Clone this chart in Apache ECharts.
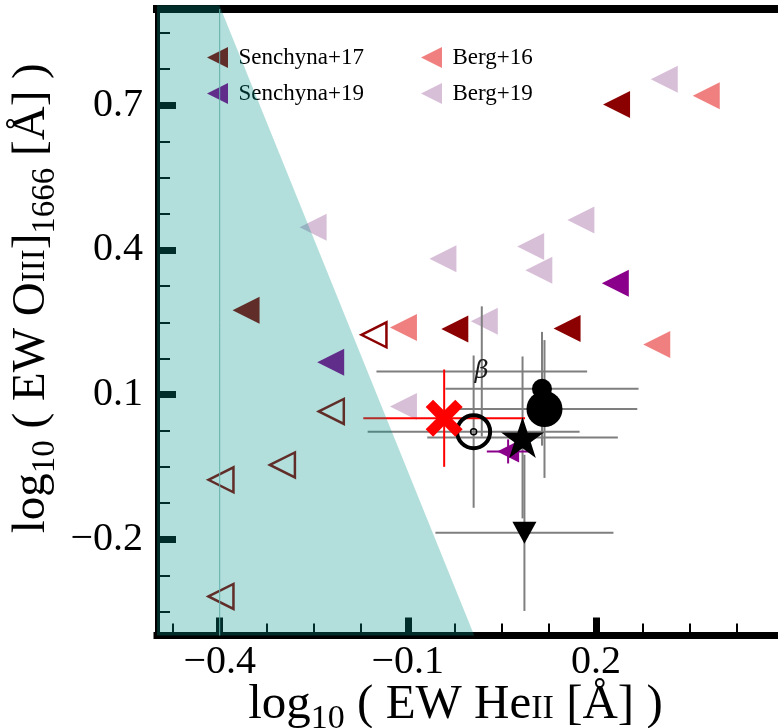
<!DOCTYPE html>
<html>
<head>
<meta charset="utf-8">
<script src="https://cdn.jsdelivr.net/npm/echarts@6/dist/echarts.min.js"></script>
<style>
  html, body { margin: 0; padding: 0; background: #fff; }
  #chart { width: 778px; height: 728px; }
</style>
</head>
<body>
<div id="chart"></div>
<script>
// log10 EW(HeII) against log10 EW(OIII]1666) for the comparison samples

// comparison samples: [log EW HeII, log EW OIII]]
const senchyna17 = [[-0.358, 0.275], [-0.025, 0.236], [0.154, 0.237], [0.233, 0.702]];
const senchyna17Limits = [[-0.154, 0.224], [-0.222, 0.065], [-0.300, -0.046], [-0.398, -0.077], [-0.398, -0.319]];
const senchyna19 = [[-0.223, 0.167], [0.231, 0.331]];
const berg16 = [[-0.107, 0.239], [0.297, 0.204], [0.376, 0.720]];
const berg19 = [[-0.251, 0.447], [0.176, 0.462], [-0.044, 0.382], [0.096, 0.407], [0.109, 0.358],
                [0.022, 0.252], [-0.107, 0.075], [0.309, 0.754]];

// individual sources: [x, y, xerr, yerr]
const crossSource = [[-0.042, 0.051, 0.129, 0.101]];
const sunSource = [[0.005, 0.023, 0.169, 0.158]];
const betaSource = [[0.018, 0.148, 0.168, 0.135]];
const bigDotSource = [[0.118, 0.070, 0.148, 0.143]];
const smallDotSource = [[0.114, 0.112, 0.154, 0.118]];
const starSource = [[0.083, 0.011, 0.152, 0.168]];
const downSource = [[0.086, -0.187, 0.142, 0.162]];
const purpleSource = [[0.060, -0.018, 0.034, 0.025]];

// shaded region and its reference line
const shadedRegion = [[-0.5, 0.908], [-0.4005, 0.908], [0.006, -0.4], [-0.5, -0.4]];
const refLineX = -0.4;

// axis ticks
const xMajorTicks = [-0.4, -0.1, 0.2];
const xMinorTicks = [-0.475, -0.325, -0.25, -0.175, -0.025, 0.05, 0.125, 0.275, 0.35, 0.425];
const yMajorTicks = [-0.2, 0.1, 0.4, 0.7];
const yMinorTicks = [-0.35, -0.275, -0.125, -0.05, 0.025, 0.175, 0.25, 0.325, 0.475, 0.55, 0.625, 0.775, 0.85];

const SERIF = 'Liberation Serif';
const TRI_LEFT = 'path://M0,5L10,0L10,10Z';
const TRI_DOWN = 'path://M0,0L10,0L5,10Z';
const CROSS_X = 'path://M2,0L5,3L8,0L10,2L7,5L10,8L8,10L5,7L2,10L0,8L3,5L0,2Z';
const STAR = 'path://M0,-100L22.45,-30.9L95.1,-30.9L36.33,11.8L58.78,80.9L0,38.2L-58.78,80.9L-36.33,11.8L-95.1,-30.9L-22.45,-30.9Z';

const fmt = v => (v < 0 ? '\u2212' : '') + Math.abs(v).toFixed(1);

// rich styles for axis titles: main text, subscript and small capitals
// (all tokens centred in the line; top padding lowers small caps onto the
// baseline and drops the subscript below it)
function titleRich(size) {
  const small = Math.round(size * 0.7);
  const base = size / 2 + 0.305 * size;
  const scPad = 2 * (base - size / 2 - 0.305 * small);
  const subPad = 2 * (base + 10 - size / 2 - 0.305 * small);
  return {
    m:  { fontFamily: SERIF, fontSize: size, lineHeight: size, color: '#000' },
    s:  { fontFamily: SERIF, fontSize: small, lineHeight: 10, color: '#000', padding: [subPad, 0, 0, 0] },
    sc: { fontFamily: SERIF, fontSize: small, lineHeight: 10, color: '#000', padding: [scPad, 0, 0, 0] }
  };
}

function errorBars(data, color, width, z) {
  return {
    type: 'custom', z: z, silent: true, data: data,
    encode: { x: 0, y: 1 },
    renderItem: function (params, api) {
      const x = api.value(0), y = api.value(1), ex = api.value(2), ey = api.value(3);
      const l = api.coord([x - ex, y]), r = api.coord([x + ex, y]);
      const t = api.coord([x, y + ey]), b = api.coord([x, y - ey]);
      return {
        type: 'group',
        children: [
          { type: 'line', shape: { x1: l[0], y1: l[1], x2: r[0], y2: r[1] }, style: { stroke: color, lineWidth: width } },
          { type: 'line', shape: { x1: t[0], y1: t[1], x2: b[0], y2: b[1] }, style: { stroke: color, lineWidth: width } }
        ]
      };
    }
  };
}

function marker(data, symbol, size, style, z) {
  return {
    type: 'scatter', z: z, data: data, symbol: symbol, symbolSize: size,
    itemStyle: Object.assign({ opacity: 1 }, style),
    emphasis: { disabled: true }
  };
}

function triangles(name, data, color) {
  const s = marker(data, TRI_LEFT, 27, { color: color }, 2);
  s.name = name;
  return s;
}

const chart = echarts.init(document.getElementById('chart'), null, { renderer: 'canvas' });

const legendText = { fontFamily: SERIF, fontSize: 23, color: '#000', padding: [0, 0, 0, 5] };

chart.setOption({
  animation: false,
  backgroundColor: '#fff',
  grid: { left: 157, top: 9, width: 627, height: 626.5, containLabel: false, outerBoundsMode: 'none' },
  legend: [
    {
      left: 207, top: 46, orient: 'vertical', padding: 0, itemGap: 13,
      itemWidth: 22, itemHeight: 21, selectedMode: false, z: 4,
      data: [{ name: 'Senchyna+17', icon: TRI_LEFT }, { name: 'Senchyna+19', icon: TRI_LEFT }],
      textStyle: legendText
    },
    {
      left: 421, top: 46, orient: 'vertical', padding: 0, itemGap: 13,
      itemWidth: 22, itemHeight: 21, selectedMode: false, z: 4,
      data: [{ name: 'Berg+16', icon: TRI_LEFT }, { name: 'Berg+19', icon: TRI_LEFT }],
      textStyle: legendText
    }
  ],
  xAxis: [
    {
      type: 'value', position: 'bottom', min: -0.5, max: 0.5,
      axisLine: { show: true, onZero: false, lineStyle: { color: '#000', width: 7, cap: 'square' } },
      axisTick: { show: true, inside: true, length: 18, customValues: xMajorTicks,
                  lineStyle: { color: '#000', width: 7 } },
      axisLabel: { show: true, margin: 7, customValues: xMajorTicks, formatter: fmt,
                   fontFamily: SERIF, fontSize: 40, color: '#000' },
      splitLine: { show: false },
      name: '{m|log}{s|10}{m| ( EW He}{sc|II}{m| [Å] )}',
      nameLocation: 'middle', nameGap: 45, nameMoveOverlap: false,
      nameTextStyle: { rich: titleRich(49), padding: [0, 30, 0, 0] }
    },
    {
      type: 'value', position: 'bottom', min: -0.5, max: 0.5,
      axisLine: { show: false, onZero: false },
      axisTick: { show: true, inside: true, length: 12, customValues: xMinorTicks,
                  lineStyle: { color: '#000', width: 2 } },
      axisLabel: { show: false },
      splitLine: { show: false }
    },
    {
      type: 'value', position: 'top', min: -0.5, max: 0.5,
      axisLine: { show: true, onZero: false, lineStyle: { color: '#000', width: 8, cap: 'square' } },
      axisTick: { show: false }, axisLabel: { show: false }, splitLine: { show: false }
    }
  ],
  yAxis: [
    {
      type: 'value', position: 'left', min: -0.4, max: 0.9,
      axisLine: { show: true, onZero: false, lineStyle: { color: '#000', width: 5, cap: 'square' } },
      axisTick: { show: true, inside: true, length: 19, customValues: yMajorTicks,
                  lineStyle: { color: '#000', width: 7 } },
      axisLabel: { show: true, margin: 14, customValues: yMajorTicks, formatter: fmt,
                   fontFamily: SERIF, fontSize: 40, color: '#000' },
      splitLine: { show: false },
      name: '{m|log}{s|10}{m| ( EW O}{sc|III}{m|]}{s|1666}{m| [Å] )}',
      nameLocation: 'middle', nameGap: 102, nameRotate: 90, nameMoveOverlap: false,
      nameTextStyle: { rich: titleRich(47), padding: [0, 0, 0, 48] }
    },
    {
      type: 'value', position: 'left', min: -0.4, max: 0.9,
      axisLine: { show: false, onZero: false },
      axisTick: { show: true, inside: true, length: 13, customValues: yMinorTicks,
                  lineStyle: { color: '#000', width: 2 } },
      axisLabel: { show: false },
      splitLine: { show: false }
    }
  ],
  series: [
    triangles('Senchyna+17', senchyna17, '#8b0000'),
    triangles('Senchyna+19', senchyna19, '#8b008b'),
    triangles('Berg+16', berg16, '#f08080'),
    triangles('Berg+19', berg19, '#d8bfd8'),
    marker(senchyna17Limits, TRI_LEFT, 25,
           { color: 'rgba(255,255,255,0)', borderColor: '#8b0000', borderWidth: 2.5 }, 2),
    errorBars([].concat(sunSource, betaSource, bigDotSource, smallDotSource, starSource, downSource), '#7f7f7f', 2, 3),
    errorBars(purpleSource, '#8b008b', 2, 3),
    errorBars(crossSource, '#ff0000', 2, 3),
    marker(purpleSource, TRI_LEFT, 22, { color: '#8b008b' }, 3),
    marker(bigDotSource, 'circle', 36, { color: '#000' }, 4),
    marker(smallDotSource, 'circle', 20, { color: '#000' }, 4),
    marker(starSource, STAR, [43, 41], { color: '#000' }, 4),
    marker(downSource, TRI_DOWN, [24, 22], { color: '#000' }, 4),
    marker(sunSource, 'circle', 33, { color: 'rgba(255,255,255,0)', borderColor: '#000', borderWidth: 4 }, 4),
    marker(sunSource, 'circle', 6, { color: 'rgba(255,255,255,0)', borderColor: '#000', borderWidth: 1.5 }, 4),
    Object.assign(marker(betaSource, 'circle', 1, { color: 'rgba(0,0,0,0)' }, 4), {
      label: { show: true, position: 'inside', formatter: 'β', fontFamily: 'DejaVu Serif',
               fontStyle: 'italic', fontSize: 24, color: '#1a1a1a' }
    }),
    marker(crossSource, CROSS_X, 37, { color: '#ff0000' }, 4),
    {
      type: 'custom', z: 10, silent: true, clip: false, data: [[0, 0]],
      encode: { x: 0, y: 1 },
      renderItem: function (params, api) {
        const pts = shadedRegion.map(p => api.coord(p));
        const top = api.coord([refLineX, 0.9]), bottom = api.coord([refLineX, -0.4]);
        return {
          type: 'group',
          children: [
            { type: 'polygon', shape: { points: pts }, style: { fill: 'rgba(0,150,136,0.3)' } },
            { type: 'line', shape: { x1: top[0], y1: top[1], x2: bottom[0], y2: bottom[1] },
              style: { stroke: '#62aeab', lineWidth: 1 } }
          ]
        };
      }
    }
  ]
});
</script>
</body>
</html>
